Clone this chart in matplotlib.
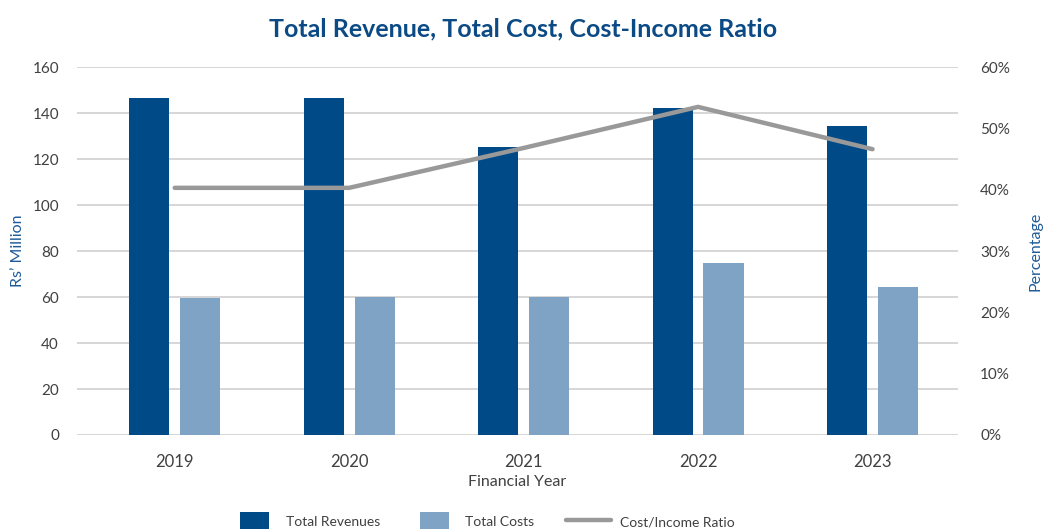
import numpy as np
import matplotlib.pyplot as plt
from matplotlib.patches import Patch, Rectangle
from matplotlib.lines import Line2D
from matplotlib.legend_handler import HandlerPatch
from matplotlib.ticker import FuncFormatter

plt.rcParams['font.family'] = ['Lato', 'DejaVu Sans']

years = ['2019', '2020', '2021', '2022', '2023']
revenues = [146.5, 146.5, 125.2, 142.2, 134.3]
costs = [59.6, 60.0, 60.0, 74.8, 64.3]
cost_income = [40.3, 40.3, 46.8, 53.5, 46.6]

DARK = '#004a87'
LIGHT = '#7fa3c4'
GREY = '#999999'
TEXT = '#404040'
LABEL = '#1f5b9a'

fig = plt.figure(figsize=(10.46, 5.29), dpi=100)
ax = fig.add_axes([0.0736, 0.1777, 0.8423, 0.6956])
ax2 = ax.twinx()

x = np.arange(len(years))
w = 0.23
off = 0.146
ax.bar(x - off, revenues, w, color=DARK, zorder=3)
ax.bar(x + off, costs, w, color=LIGHT, zorder=3)
ax2.plot(x, cost_income, color=GREY, lw=3.2, solid_capstyle='round',
         solid_joinstyle='miter', zorder=4)

ax.set_xlim(-0.56, 4.49)
ax.set_ylim(0, 160)
ax.set_yticks(np.arange(0, 161, 20))
ax2.set_ylim(0, 60)
ax2.set_yticks(np.arange(0, 61, 10))
ax2.yaxis.set_major_formatter(FuncFormatter(lambda v, p: f'{v:.0f}%'))

ax.grid(axis='y', color='#cccccc', lw=1.1, zorder=0)
ax.set_axisbelow(True)
for a in (ax, ax2):
    for s in a.spines.values():
        s.set_visible(False)
    a.tick_params(length=0, colors=TEXT, labelsize=11)

ax.set_xticks(x)
ax.set_xticklabels(years, fontsize=12)
ax.tick_params(axis='x', pad=14)
ax.tick_params(axis='y', pad=13)
ax2.tick_params(axis='y', pad=16)

ax.set_xlabel('Financial Year', fontsize=11.5, color=TEXT, labelpad=3)
ax.set_ylabel('Rs’ Million', fontsize=11.5, color=LABEL)
ax2.set_ylabel('Percentage', fontsize=11.5, color=LABEL)
ax.yaxis.set_label_coords(-0.067, 0.5)
ax2.yaxis.set_label_coords(1.088, 0.5)
ax.yaxis.label.set_va('center')
ax2.yaxis.label.set_va('center')

fig.suptitle('Total Revenue, Total Cost, Cost-Income Ratio', x=0.5, y=0.968,
             fontsize=18, fontweight='bold', color='#0b4a85')


class SquareHandler(HandlerPatch):
    def create_artists(self, legend, orig_handle, xdescent, ydescent,
                       width, height, fontsize, trans):
        side = 20.9
        r = Rectangle((-xdescent + width - side - 5.8, -ydescent - 1.5),
                      side, height + 3, facecolor=orig_handle.get_facecolor(),
                      transform=trans)
        return [r]


handles = [Patch(color=DARK, label='Total Revenues'),
           Patch(color=LIGHT, label='Total Costs'),
           Line2D([], [], color=GREY, lw=3.2, solid_capstyle='round',
                  label='Cost/Income Ratio')]
fig.legend(handles=handles, loc='lower center', bbox_to_anchor=(0.462, -0.024),
           ncol=3, frameon=False, fontsize=10, labelcolor=TEXT,
           handlelength=3.25, handleheight=1.32, handletextpad=0.6,
           columnspacing=2.3,
           handler_map={Patch: SquareHandler()})

fig.savefig('out.png', dpi=100)
